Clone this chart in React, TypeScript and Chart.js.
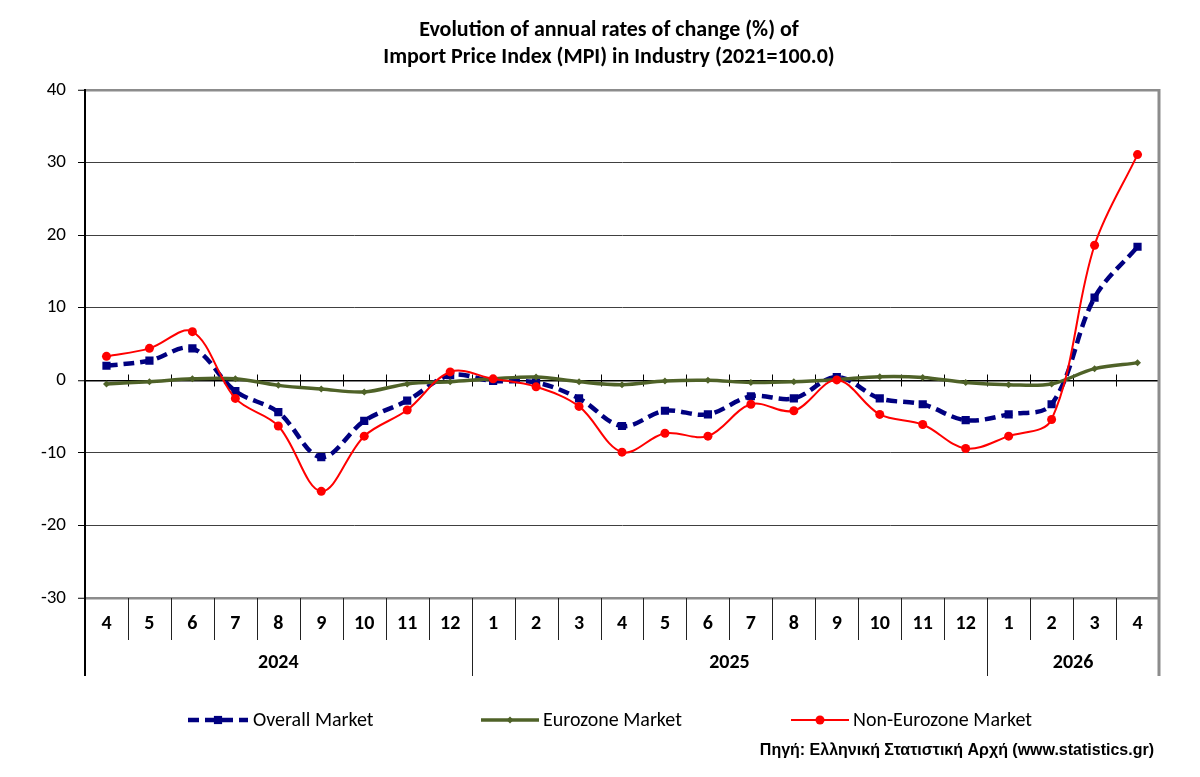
import React, { useEffect, useRef } from 'react';
import { Chart, registerables } from 'chart.js';

Chart.register(...registerables);

// ---- data ----
const months = ['4', '5', '6', '7', '8', '9', '10', '11', '12', '1', '2', '3', '4', '5', '6', '7', '8', '9', '10', '11', '12', '1', '2', '3', '4'];
const yearLabels = ['2024', '2025', '2026'];
const yearCounts = [9, 12, 4];
const overallMarket = [2.0, 2.7, 4.4, -1.5, -4.4, -10.6, -5.6, -2.8, 0.7, -0.1, -0.3, -2.5, -6.3, -4.2, -4.7, -2.2, -2.5, 0.45, -2.5, -3.3, -5.5, -4.7, -3.3, 11.4, 18.4];
const eurozoneMarket = [-0.5, -0.2, 0.2, 0.2, -0.7, -1.2, -1.6, -0.5, -0.2, 0.2, 0.45, -0.2, -0.6, -0.1, 0.0, -0.3, -0.2, 0.1, 0.5, 0.4, -0.3, -0.6, -0.5, 1.6, 2.4];
const nonEurozoneMarket = [3.3, 4.4, 6.7, -2.5, -6.3, -15.3, -7.7, -4.1, 1.15, 0.2, -0.9, -3.6, -9.9, -7.3, -7.7, -3.3, -4.2, 0.05, -4.7, -6.1, -9.4, -7.7, -5.4, 18.6, 31.1];
const yTicks = [40, 30, 20, 10, 0, -10, -20, -30];
const titleLines = ['Evolution of annual rates of change (%) of', 'Import Price Index (MPI) in Industry (2021=100.0)'];
const sourceText = 'Πηγή: Ελληνική Στατιστική Αρχή (www.statistics.gr)';

const BLUE = '#000080';
const GREEN = '#4f6228';
const RED = '#ff0000';
const FONT = 'Carlito, Lato, "DejaVu Sans", sans-serif';

const legendLayout = [
  { x0: 188, x1: 248, tx: 253 },
  { x0: 481, x1: 539, tx: 543 },
  { x0: 791, x1: 849, tx: 853 },
];

function drawMarker(ctx: CanvasRenderingContext2D, style: string, x: number, y: number, r: number, color: string) {
  ctx.save();
  ctx.fillStyle = color;
  ctx.setLineDash([]);
  ctx.beginPath();
  if (style === 'rect') {
    const s = r * Math.SQRT1_2;
    ctx.rect(x - s, y - s, 2 * s, 2 * s);
  } else if (style === 'rectRot') {
    ctx.moveTo(x, y - r);
    ctx.lineTo(x + r, y);
    ctx.lineTo(x, y + r);
    ctx.lineTo(x - r, y);
    ctx.closePath();
  } else {
    ctx.arc(x, y, r, 0, Math.PI * 2);
  }
  ctx.fill();
  ctx.restore();
}

const decorPlugin = {
  id: 'decor',
  beforeDatasetsDraw(chart: any) {
    const { ctx, scales } = chart;
    const x = scales.x;
    const y = scales.y;
    const y0 = Math.round(y.getPixelForValue(0)) + 0.5;
    ctx.save();
    ctx.strokeStyle = '#000';
    ctx.lineWidth = 1;
    for (let k = 1; k <= months.length; k++) {
      const px = Math.round(x.getPixelForValue(k - 0.5)) + 0.5;
      ctx.beginPath();
      ctx.moveTo(px, y0 - 6);
      ctx.lineTo(px, y0 + 6);
      ctx.stroke();
    }
    ctx.restore();
  },
  afterDraw(chart: any) {
    const { ctx, chartArea: a, scales } = chart;
    const x = scales.x;
    const sepBottom = a.bottom + 42;
    const groupBottom = a.bottom + 78;
    ctx.save();

    // category separators
    ctx.strokeStyle = '#222';
    ctx.lineWidth = 1;
    for (let k = 1; k < months.length; k++) {
      const px = Math.round(x.getPixelForValue(k - 0.5)) + 0.5;
      ctx.beginPath();
      ctx.moveTo(px, a.bottom);
      ctx.lineTo(px, sepBottom);
      ctx.stroke();
    }
    // group separators
    let start = 0;
    const bounds = [0];
    yearCounts.forEach((c) => { start += c; bounds.push(start); });
    bounds.forEach((b, i) => {
      const px = Math.round(x.getPixelForValue(b - 0.5)) + 0.5;
      if (i === bounds.length - 1) return;
      ctx.lineWidth = i === 0 ? 2 : 1;
      ctx.strokeStyle = i === 0 ? '#000' : '#222';
      ctx.beginPath();
      ctx.moveTo(i === 0 ? px - 0.5 : px, a.bottom);
      ctx.lineTo(i === 0 ? px - 0.5 : px, groupBottom);
      ctx.stroke();
    });
    // right border
    ctx.strokeStyle = '#8c8c8c';
    ctx.lineWidth = 3;
    ctx.beginPath();
    ctx.moveTo(a.right, a.top - 1);
    ctx.lineTo(a.right, groupBottom);
    ctx.stroke();

    // month labels
    ctx.fillStyle = '#000';
    ctx.textAlign = 'center';
    ctx.textBaseline = 'middle';
    ctx.font = `bold 20px ${FONT}`;
    months.forEach((m, i) => {
      ctx.fillText(m, x.getPixelForValue(i), a.bottom + 26);
    });
    // year labels
    for (let g = 0; g < yearLabels.length; g++) {
      const l = x.getPixelForValue(bounds[g] - 0.5);
      const r = x.getPixelForValue(bounds[g + 1] - 0.5);
      ctx.fillText(yearLabels[g], (l + r) / 2, a.bottom + 65);
    }

    // title
    ctx.font = `bold 22px ${FONT}`;
    ctx.fillText(titleLines[0], 609, 30);
    ctx.fillText(titleLines[1], 609, 57);

    // legend
    ctx.font = `20px ${FONT}`;
    ctx.textAlign = 'left';
    const ly = 720;
    chart.data.datasets.forEach((ds: any, i: number) => {
      const L = legendLayout[i];
      ctx.save();
      ctx.strokeStyle = ds.borderColor;
      ctx.lineWidth = ds.borderWidth;
      ctx.setLineDash(ds.borderDash || []);
      ctx.beginPath();
      ctx.moveTo(L.x0, ly);
      ctx.lineTo(L.x1, ly);
      ctx.stroke();
      ctx.restore();
      drawMarker(ctx, ds.pointStyle, (L.x0 + L.x1) / 2, ly, ds.pointRadius, ds.pointBackgroundColor);
      ctx.fillStyle = '#000';
      ctx.fillText(ds.label, L.tx, ly + 1);
    });

    // source
    ctx.font = 'bold 16px "Liberation Sans", Arial, sans-serif';
    ctx.textAlign = 'right';
    ctx.fillText(sourceText, 1154, 751);
    ctx.restore();
  },
};

export default function App() {
  const ref = useRef<HTMLCanvasElement>(null);
  useEffect(() => {
    if (!ref.current) return;
    const chart = new Chart(ref.current, {
      type: 'line',
      data: {
        labels: months,
        datasets: [
          {
            label: 'Overall Market',
            data: overallMarket,
            borderColor: BLUE,
            backgroundColor: BLUE,
            pointBackgroundColor: BLUE,
            pointBorderColor: BLUE,
            borderWidth: 4.5,
            borderDash: [11, 6],
            pointStyle: 'rect',
            pointRadius: 5.8,
            pointBorderWidth: 0,
            tension: 0.35,
            order: 3,
          },
          {
            label: 'Eurozone Market',
            data: eurozoneMarket,
            borderColor: GREEN,
            backgroundColor: GREEN,
            pointBackgroundColor: GREEN,
            pointBorderColor: GREEN,
            borderWidth: 3.5,
            pointStyle: 'rectRot',
            pointRadius: 3.5,
            pointBorderWidth: 0,
            tension: 0.35,
            order: 2,
          },
          {
            label: 'Non-Eurozone Market',
            data: nonEurozoneMarket,
            borderColor: RED,
            backgroundColor: RED,
            pointBackgroundColor: RED,
            pointBorderColor: RED,
            borderWidth: 2,
            pointStyle: 'circle',
            pointRadius: 4.5,
            pointBorderWidth: 0,
            tension: 0.35,
            order: 1,
          },
        ] as any,
      },
      options: {
        responsive: false,
        animation: false,
        events: [],
        layout: { padding: { left: 0, right: 41, top: 90, bottom: 0 } },
        plugins: {
          legend: { display: false },
          title: { display: false },
          tooltip: { enabled: false },
        },
        scales: {
          x: {
            type: 'category',
            offset: true,
            grid: { display: false },
            border: { display: false },
            ticks: { display: false },
            afterFit: (s: any) => { s.height = 179; },
          },
          y: {
            min: -30,
            max: 40,
            afterBuildTicks: (s: any) => { s.ticks = yTicks.map((v) => ({ value: v })); },
            afterFit: (s: any) => { s.width = 85; },
            border: { display: true, color: '#000', width: 2 },
            grid: {
              color: (c: any) => (c.tick && c.tick.value === 0 ? '#000' : c.tick && (c.tick.value === 40 || c.tick.value === -30) ? '#8c8c8c' : '#404040'),
              lineWidth: (c: any) => (c.tick && c.tick.value === 0 ? 1.5 : c.tick && (c.tick.value === 40 || c.tick.value === -30) ? 2.5 : 1),
              tickColor: '#000',
              tickWidth: 1,
              tickLength: 7,
              drawTicks: true,
            },
            ticks: {
              color: '#000',
              padding: 12,
              font: { family: FONT, size: 19 },
              callback: (v: any) => String(v),
            },
          },
        },
      } as any,
      plugins: [decorPlugin],
    });
    return () => chart.destroy();
  }, []);
  return (
    <div style={{ position: 'absolute', left: 0, top: 0, width: 1200, height: 777, background: '#fff' }}>
      <canvas ref={ref} width={1200} height={777} style={{ display: 'block', width: 1200, height: 777 }} />
    </div>
  );
}
